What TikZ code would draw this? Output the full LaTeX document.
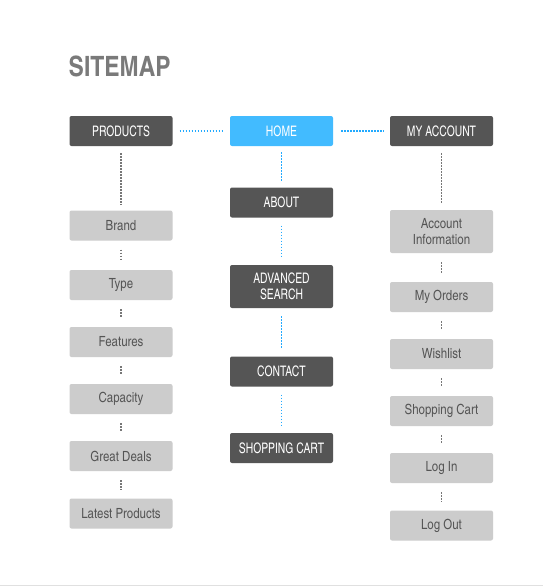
\documentclass[tikz,border=0pt]{standalone}
\usepackage{fontspec}
\setmainfont{TeX Gyre Heros Cn}
\newfontfamily\capsfont[FakeStretch=0.87]{TeX Gyre Heros Cn}
\begin{document}
\begin{tikzpicture}[x=1pt,y=-1pt,
  base/.style={rounded corners=2pt, minimum width=103pt, minimum height=30pt, inner sep=0pt, align=center},
  darkbox/.style={base, fill=boxdark, text=white, font=\capsfont\fontsize{14.5}{16.5}\selectfont},
  bluebox/.style={base, fill=boxblue, text=white, font=\capsfont\fontsize{14.5}{16.5}\selectfont},
  lightbox/.style={base, fill=boxlight, text=txtgray, font=\fontsize{14}{16.5}\selectfont},
  tall/.style={minimum height=43pt},
  blueline/.style={draw=lineblue, line width=1.8pt, dash pattern=on 1.6pt off 1.4pt},
  grayline/.style={draw=linegray, line width=1.4pt, dash pattern=on 1.4pt off 1.6pt}]
\definecolor{boxdark}{HTML}{555555}
\definecolor{boxblue}{HTML}{42BBFF}
\definecolor{boxlight}{HTML}{CCCCCC}
\definecolor{txtgray}{HTML}{555555}
\definecolor{lineblue}{HTML}{22AAFF}
\definecolor{linegray}{HTML}{777777}
\definecolor{titlegray}{HTML}{7A7A7A}
\useasboundingbox (0,0) rectangle (543,586);
\fill[white] (0,0) rectangle (543,586);
\draw[draw=black!12, line width=1pt] (0,585.5) -- (543,585.5);

\node[anchor=west, text=titlegray, font=\fontsize{28}{30}\selectfont\bfseries, inner sep=0pt] (title) at (68.5,66.5) {SITEMAP};

% top row
\node[darkbox] (products) at (121,131) {PRODUCTS};
\node[bluebox] (home) at (281.5,131) {HOME};
\node[darkbox] (account) at (441.5,131) {MY ACCOUNT};

% middle column
\node[darkbox] (about) at (281.5,202.5) {ABOUT};
\node[darkbox, tall] (search) at (281.5,286.5) {ADVANCED\\SEARCH};
\node[darkbox] (contact) at (281.5,371.5) {CONTACT};
\node[darkbox] (cart) at (281.5,448) {SHOPPING CART};

% left column
\node[lightbox] (brand) at (121,225.5) {Brand};
\node[lightbox] (type) at (121,285) {Type};
\node[lightbox] (features) at (121,342) {Features};
\node[lightbox] (capacity) at (121,399) {Capacity};
\node[lightbox] (deals) at (121,456) {Great Deals};
\node[lightbox] (latest) at (121,513.5) {Latest Products};

% right column
\node[lightbox, tall] (info) at (441.5,231.5) {Account\\Information};
\node[lightbox] (orders) at (441.5,297) {My Orders};
\node[lightbox] (wish) at (441.5,354) {Wishlist};
\node[lightbox] (scart) at (441.5,411) {Shopping Cart};
\node[lightbox] (login) at (441.5,468) {Log In};
\node[lightbox] (logout) at (441.5,525.5) {Log Out};

% connectors
\draw[blueline, shorten <=7pt, shorten >=6pt] (products.east) -- (home.west);
\draw[blueline, shorten <=8pt, shorten >=6pt] (home.east) -- (account.west);
\draw[blueline, shorten <=6pt, shorten >=6pt] (home.south) -- (about.north);
\draw[blueline, shorten <=8pt, shorten >=7pt] (about.south) -- (search.north);
\draw[blueline, shorten <=8pt, shorten >=8pt] (search.south) -- (contact.north);
\draw[blueline, shorten <=8pt, shorten >=8pt] (contact.south) -- (cart.north);

\draw[grayline, shorten <=7pt, shorten >=6pt] (products.south) -- (brand.north);
\draw[grayline, shorten <=7pt, shorten >=6pt] (account.south) -- (info.north);
\foreach \a/\b in {brand/type, type/features, features/capacity, capacity/deals, deals/latest, info/orders, orders/wish, wish/scart, scart/login, login/logout}
  \draw[grayline, shorten <=9pt, shorten >=9pt] (\a.south) -- (\b.north);
\end{tikzpicture}
\end{document}
